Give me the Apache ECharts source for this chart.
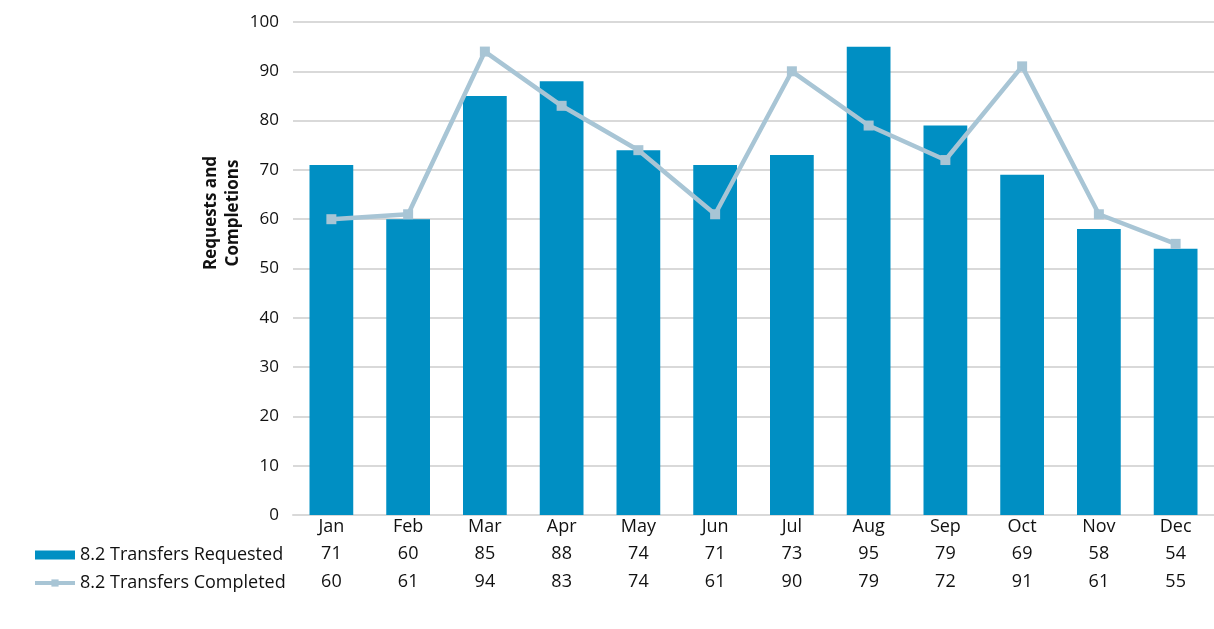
<!DOCTYPE html>
<html><head><meta charset="utf-8">
<script src="https://cdn.jsdelivr.net/npm/echarts@6/dist/echarts.min.js"></script>
<style>html,body{margin:0;padding:0;background:#fff}#c{width:1214px;height:629px}</style>
</head><body><div id="c"></div>
<script>
const categories = ['Jan','Feb','Mar','Apr','May','Jun','Jul','Aug','Sep','Oct','Nov','Dec'];
const requested = [71,60,85,88,74,71,73,95,79,69,58,54];
const completed = [60,61,94,83,74,61,90,79,72,91,61,55];
const seriesNames = ['8.2 Transfers Requested','8.2 Transfers Completed'];
const axisTitle = 'Requests and\nCompletions';

const chart = echarts.init(document.getElementById('c'));
const font = '"Open Sans", "Noto Sans", sans-serif';
chart.setOption({
  animation:false,
  textStyle:{fontFamily:font},
  grid:{left:293,right:-3,top:22,bottom:114,containLabel:false},
  legend:{
    orient:'vertical', left:33, top:546, itemGap:10, padding:0,
    itemWidth:40, itemHeight:9,
    textStyle:{fontSize:18,color:'#111',fontFamily:font},
    data:[{name:seriesNames[0],icon:'rect'},
          {name:seriesNames[1],lineStyle:{width:4,color:'#a8c5d5'}}]
  },
  xAxis:{
    type:'category', data:categories,
    axisLine:{lineStyle:{color:'#d9d9d9',width:2}},
    axisTick:{show:false},
    axisLabel:{
      interval:0, margin:-1,
      formatter:(v,i)=>`{c|${v}}\n{v|${requested[i]}}\n{v|${completed[i]}}`,
      rich:{
        c:{fontSize:18,color:'#111',lineHeight:26,fontFamily:font},
        v:{fontSize:18,color:'#111',lineHeight:28,fontFamily:font}
      }
    }
  },
  yAxis:{
    type:'value', min:0, max:100, interval:10,
    axisLine:{show:false}, axisTick:{show:false},
    axisLabel:{fontSize:17,color:'#111',margin:14,fontFamily:font},
    splitLine:{lineStyle:{color:'#d9d9d9',width:2}}
  },
  graphic:[{
    type:'text', rotation:Math.PI/2,
    style:{text:axisTitle,fontSize:17,fontWeight:'bold',fill:'#111',textAlign:'center',textVerticalAlign:'middle',lineHeight:22,fontFamily:font},
    x:222, y:213
  }],
  series:[
    {name:seriesNames[0],type:'bar',data:requested,barCategoryGap:'43%',
     itemStyle:{color:'#008fc3'}},
    {name:seriesNames[1],type:'line',data:completed,symbol:'rect',symbolSize:10,
     lineStyle:{color:'#a8c5d5',width:4.5},itemStyle:{color:'#a8c5d5'}}
  ]
});
</script></body></html>
